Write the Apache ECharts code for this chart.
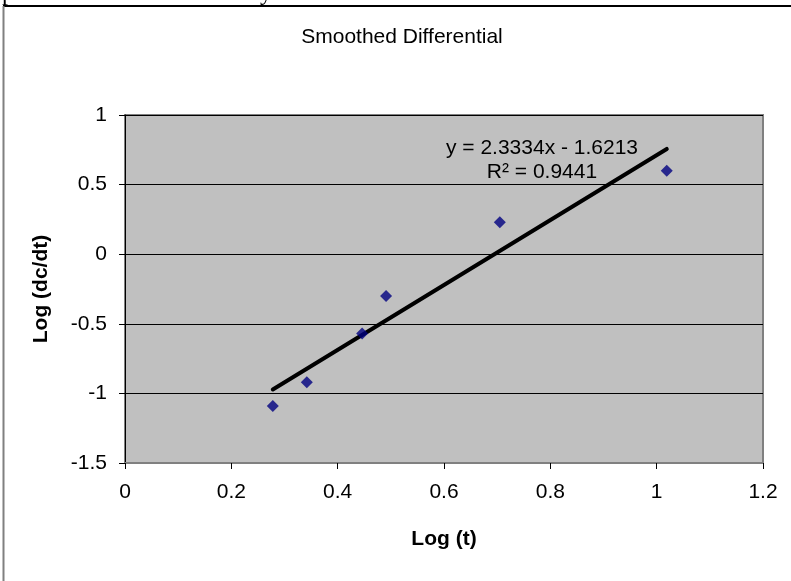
<!DOCTYPE html>
<html><head><meta charset="utf-8">
<script src="https://cdn.jsdelivr.net/npm/echarts@6/dist/echarts.min.js"></script>
<style>html,body{margin:0;padding:0;background:#fff}#c{width:791px;height:581px}</style>
</head><body><div id="c"></div>
<script>
const titleText = "Smoothed Differential";
const xName = "Log (t)";
const yName = "Log (dc/dt)";
const logT = [0.278, 0.342, 0.446, 0.491, 0.705, 1.019];
const logDcDt = [-1.09, -0.92, -0.57, -0.30, 0.23, 0.60];
const trendX = [0.278, 1.019];
const trendY = [-0.972, 0.756];
const eqLines = ["y = 2.3334x - 1.6213", "R\u00b2 = 0.9441"];
const xTicks = [0, 0.2, 0.4, 0.6, 0.8, 1, 1.2];
const yTicks = [-1.5, -1, -0.5, 0, 0.5, 1];

const font = "Liberation Sans, Arial, sans-serif";
const chart = echarts.init(document.getElementById('c'));
chart.setOption({
  animation: false,
  backgroundColor: '#ffffff',
  title: {
    text: titleText, left: 397, top: 22, textAlign: 'center',
    textStyle: {fontFamily: font, fontSize: 21, fontWeight: 'normal', color: '#000'}
  },
  grid: {left: 125, right: 28, top: 115, bottom: 118, show: true, backgroundColor: '#c0c0c0', borderColor: '#808080', borderWidth: 2},
  xAxis: {
    type: 'value', min: 0, max: 1.2, interval: 0.2,
    name: xName, nameLocation: 'middle', nameGap: 66,
    nameTextStyle: {fontFamily: font, fontSize: 21, fontWeight: 'bold', color: '#000'},
    axisLine: {onZero: false, lineStyle: {color: '#808080', width: 2}},
    axisTick: {show: true, length: 6, inside: false, lineStyle: {color: '#000'}},
    axisLabel: {fontFamily: font, fontSize: 21, color: '#000', margin: 19,
      formatter: v => xTicks.includes(+v.toFixed(1)) ? String(+v.toFixed(1)) : ''},
    splitLine: {show: false}
  },
  yAxis: {
    type: 'value', min: -1.5, max: 1, interval: 0.5,
    name: yName, nameLocation: 'middle', nameGap: 73, nameRotate: 90,
    nameTextStyle: {fontFamily: font, fontSize: 21, fontWeight: 'bold', color: '#000'},
    axisLine: {show: true, onZero: false, lineStyle: {color: '#000', width: 1}},
    axisTick: {show: true, length: 6, inside: false, lineStyle: {color: '#000'}},
    axisLabel: {fontFamily: font, fontSize: 21, color: '#000', margin: 18,
      formatter: v => yTicks.includes(+v.toFixed(1)) ? String(+v.toFixed(1)) : ''},
    splitLine: {show: true, lineStyle: {color: '#000', width: 1}}
  },
  series: [
    {
      type: 'line', data: trendX.map((x, i) => [x, trendY[i]]),
      symbol: 'none', lineStyle: {color: '#000', width: 4, cap: 'round'}, z: 3,
      silent: true
    },
    {
      type: 'scatter', data: logT.map((x, i) => [x, logDcDt[i]]),
      symbol: 'diamond', symbolSize: 12, itemStyle: {color: '#000080'}, z: 4
    }
  ],
  graphic: [
    {type: 'text', x: 2, y: 6, style: {text: 'p', font: '24px Liberation Serif, serif', fill: '#000', textVerticalAlign: 'bottom'}},
    {type: 'text', x: 260, y: 6, style: {text: 'y', font: '24px Liberation Serif, serif', fill: '#000', textVerticalAlign: 'bottom'}},
    {type: 'line', shape: {x1: 3, y1: 6, x2: 791, y2: 6}, style: {stroke: '#000', lineWidth: 2}},
    {type: 'line', shape: {x1: 3.5, y1: 6, x2: 3.5, y2: 581}, style: {stroke: '#808080', lineWidth: 2}},
    {type: 'text', x: 542, y: 148, style: {text: eqLines[0], font: '21px ' + font, fill: '#000', textAlign: 'center', textVerticalAlign: 'middle'}},
    {type: 'text', x: 542, y: 172, style: {text: eqLines[1], font: '21px ' + font, fill: '#000', textAlign: 'center', textVerticalAlign: 'middle'}}
  ]
});
</script></body></html>
